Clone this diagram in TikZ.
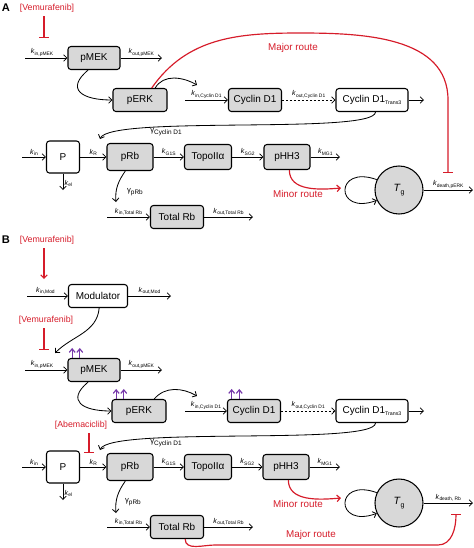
\documentclass[tikz,border=0pt]{standalone}
\usepackage{fontspec}
\setmainfont{Liberation Sans}
\usepackage{xcolor}
\usetikzlibrary{arrows.meta}
\definecolor{boxgray}{RGB}{216,216,216}
\definecolor{routered}{RGB}{214,28,42}
\definecolor{upviolet}{RGB}{118,56,170}
\newcommand{\krate}[1]{\textit{k}\raisebox{-1.2pt}{\fontsize{4.2}{5}\selectfont #1}}
\newcommand{\grate}[1]{γ\raisebox{-1.2pt}{\fontsize{5.5}{6}\selectfont #1}}
\newcommand{\subtx}[1]{\raisebox{-1.5pt}{\fontsize{4.5}{5}\selectfont #1}}

\begin{document}
\begin{tikzpicture}[x=0.03cm,y=0.03cm]
	\tikzstyle{box} = [rectangle,rounded corners=2.5pt,draw=black,line width=0.9pt,fill=boxgray,inner sep=0pt,minimum height=0.69cm,font=\fontsize{8.5}{10}\selectfont]
	\tikzstyle{wbox} = [box,fill=white]
	\tikzstyle{flow} = [line width=0.7pt,-{Straight Barb[length=2.8pt,width=5.5pt]}]
	\tikzstyle{dflow} = [flow,dash pattern=on 2pt off 1.4pt]
	\tikzstyle{redflow} = [flow,color=routered,line width=1pt]
	\tikzstyle{inhib} = [color=routered,line width=1pt,-{Bar[width=8pt,line width=1.1pt]}]
	\tikzstyle{upar} = [color=upviolet,line width=1pt,-{Straight Barb[length=3pt,width=5pt]}]
	\tikzstyle{ratelab} = [font=\fontsize{6}{7}\selectfont,inner sep=1pt,above]
	\tikzstyle{gamlab} = [font=\fontsize{6.5}{7}\selectfont,inner sep=1pt]
	\tikzstyle{route} = [text=routered,font=\fontsize{8.4}{10}\selectfont]
	\tikzstyle{drug} = [text=routered,font=\fontsize{7.5}{9}\selectfont]
	\tikzstyle{panel} = [font=\bfseries\fontsize{9.5}{11}\selectfont]
	\tikzstyle{tgcirc} = [circle,draw=black,line width=0.9pt,fill=boxgray,minimum size=1.44cm,inner sep=0pt,font=\fontsize{9}{10}\selectfont]
	\useasboundingbox (0,0) rectangle (474,-548);

	\node[panel] (la) at (6,-8) {A};
	\node[drug] (vema) at (47,-8) {[Vemurafenib]};
	\coordinate (stopa) at (44,-38);
	\draw[inhib] (vema.south -| stopa) -- (stopa);
	\node[box,minimum width=1.56cm] (pmeka) at (94,-58) {pMEK};
	\coordinate (inmeka) at (25,-58);
	\coordinate (outmeka) at (162,-58);
	\draw[flow] (inmeka) -- node[ratelab,pos=0.4] (kima) {\krate{in,pMEK}} (pmeka);
	\draw[flow] (pmeka) -- node[ratelab] (koma) {\krate{out,pMEK}} (outmeka);
	\node[box,minimum width=1.62cm] (perka) at (140,-100) {pERK};
	\draw[flow] ([xshift=-5pt]pmeka.south) to[out=220,in=180,looseness=2] (perka.west);
	\coordinate (erkouta) at (197,-85);
	\draw[flow] ([xshift=13pt]perka.north) to[out=60,in=150] (erkouta);
	\coordinate (majtopa) at (300,-33);
	\coordinate (majbenda) at (448,-100);
	\coordinate (stoptga) at (448,-173);
	\draw[inhib] ([xshift=10pt]perka.north) to[out=55,in=180] (majtopa) to[out=0,in=90] (majbenda) -- (stoptga);
	\node[route] (majora) at (293,-48) {Major route};
	\node[box,minimum width=1.59cm] (cyca) at (255,-100) {Cyclin D1};
	\coordinate (incyca) at (185,-100);
	\draw[flow] (incyca) -- node[ratelab] (kica) {\krate{in,Cyclin D1}} (cyca);
	\node[wbox,minimum width=2.16cm] (transa) at (372,-100) {Cyclin D1\subtx{Trans3}};
	\draw[dflow] (cyca) -- node[ratelab] (koca) {\krate{out,Cyclin D1}} (transa);
	\coordinate (outtransa) at (424,-100);
	\draw[flow] (transa) -- (outtransa);
	\coordinate (gcyca) at (100,-139);
	\draw[flow] ([xshift=3pt]transa.south) .. controls (375,-135) and (110,-115) .. (gcyca);
	\node[gamlab] (gca) at (166,-132) {\grate{Cyclin D1}};
	\node[wbox,minimum width=0.99cm,minimum height=0.96cm] (pa) at (63,-157) {P};
	\coordinate (inpa) at (22,-157);
	\draw[flow] (inpa) -- node[ratelab] (kipa) {\krate{in}} (pa);
	\coordinate (ela) at (63,-190);
	\draw[flow] (pa) -- node[ratelab,right,pos=0.6] (kela) {\krate{el}} (ela);
	\node[box,minimum width=1.38cm,minimum height=0.81cm] (prba) at (130,-157) {pRb};
	\draw[flow] (pa) -- node[ratelab] (kra) {\krate{R}} (prba);
	\node[box,minimum width=1.41cm,minimum height=0.75cm] (topoa) at (208,-157) {TopoIIα};
	\draw[flow] (prba) -- node[ratelab] (kga) {\krate{G1S}} (topoa);
	\node[box,minimum width=1.38cm,minimum height=0.75cm] (hha) at (287,-157) {pHH3};
	\draw[flow] (topoa) -- node[ratelab] (ksa) {\krate{SG2}} (hha);
	\coordinate (outhha) at (340,-157);
	\draw[flow] (hha) -- node[ratelab] (kmga) {\krate{MG1}} (outhha);
	\coordinate (mina) at (341,-188);
	\draw[redflow] ([xshift=2pt]hha.south) to[out=270,in=185] (mina);
	\node[route] (minora) at (298,-194) {Minor route};
	\node[tgcirc] (tga) at (399,-190) {\textit{T}\raisebox{-2pt}{\fontsize{6}{6}\selectfont g}};
	\draw[flow] (tga.155) .. controls +(160:45) and +(200:45) .. (tga.205);
	\coordinate (deatha) at (473,-190);
	\draw[flow] (tga) -- node[ratelab] (kda) {\krate{death,pERK}} (deatha);
	\coordinate (gprba) at (116,-202);
	\draw[flow] ([xshift=-4pt]prba.south) to[out=235,in=95] (gprba);
	\node[gamlab] (gpa) at (135,-192) {\grate{pRb}};
	\node[box,minimum width=1.59cm] (trba) at (177,-217) {Total Rb};
	\coordinate (intrba) at (107,-217);
	\coordinate (outtrba) at (253,-217);
	\draw[flow] (intrba) -- node[ratelab] (kita) {\krate{in,Total Rb}} (trba);
	\draw[flow] (trba) -- node[ratelab] (kota) {\krate{out,Total Rb}} (outtrba);

	\node[panel] (lb) at (6,-240) {B};
	\node[drug] (vemb) at (47,-240) {[Vemurafenib]};
	\coordinate (modtop) at (44,-279);
	\draw[redflow] (vemb.south -| modtop) -- (modtop);
	\node[wbox,minimum width=1.77cm] (modb) at (98,-296) {Modulator};
	\coordinate (inmodb) at (27,-296);
	\coordinate (outmodb) at (171,-296);
	\draw[flow] (inmodb) -- node[ratelab,pos=0.45] (kimod) {\krate{in,Mod}} (modb);
	\draw[flow] (modb) -- node[ratelab] (komod) {\krate{out,Mod}} (outmodb);
	\node[drug] (vemc) at (46,-320) {[Vemurafenib]};
	\coordinate (stopb) at (44,-350);
	\draw[inhib] (vemc.south -| stopb) -- (stopb);
	\coordinate (modmek) at (55,-353);
	\draw[flow] ([xshift=1pt]modb.south) to[out=265,in=45] (modmek);
	\node[box,minimum width=1.56cm] (pmekb) at (94,-370) {pMEK};
	\coordinate (inmekb) at (25,-370);
	\coordinate (outmekb) at (162,-370);
	\draw[flow] (inmekb) -- node[ratelab,pos=0.4] (kimb) {\krate{in,pMEK}} (pmekb);
	\draw[flow] (pmekb) -- node[ratelab] (komb) {\krate{out,pMEK}} (outmekb);
	\node[box,minimum width=1.62cm] (perkb) at (139,-411) {pERK};
	\draw[flow] ([xshift=-5pt]pmekb.south) to[out=220,in=180,looseness=2] (perkb.west);
	\coordinate (erkoutb) at (197,-396);
	\draw[flow] ([xshift=13pt]perkb.north) to[out=50,in=150] (erkoutb);
	\node[box,minimum width=1.59cm] (cycb) at (254,-411) {Cyclin D1};
	\coordinate (incycb) at (185,-411);
	\draw[flow] (incycb) -- node[ratelab] (kicb) {\krate{in,Cyclin D1}} (cycb);
	\node[wbox,minimum width=2.16cm] (transb) at (372,-411) {Cyclin D1\subtx{Trans3}};
	\draw[dflow] (cycb) -- node[ratelab] (kocb) {\krate{out,Cyclin D1}} (transb);
	\coordinate (outtransb) at (424,-411);
	\draw[flow] (transb) -- (outtransb);
	\foreach \n in {pmekb,perkb,cycb} {
		\draw[upar] ([xshift=4pt]\n.north west) -- ++(0,10);
		\draw[upar] ([xshift=10.5pt]\n.north west) -- ++(0,10);
	}
	\coordinate (gcycb) at (100,-450);
	\draw[flow] ([xshift=3pt]transb.south) .. controls (375,-446) and (110,-426) .. (gcycb);
	\node[gamlab] (gcb) at (166,-443) {\grate{Cyclin D1}};
	\node[drug] (abema) at (81,-425) {[Abemaciclib]};
	\coordinate (stopkr) at (89,-453);
	\draw[inhib] (abema.south -| stopkr) -- (stopkr);
	\node[wbox,minimum width=0.99cm,minimum height=0.96cm] (pb) at (63,-467) {P};
	\coordinate (inpb) at (22,-467);
	\draw[flow] (inpb) -- node[ratelab] (kipb) {\krate{in}} (pb);
	\coordinate (elb) at (63,-500);
	\draw[flow] (pb) -- node[ratelab,right,pos=0.6] (kelb) {\krate{el}} (elb);
	\node[box,minimum width=1.38cm,minimum height=0.81cm] (prbb) at (130,-467) {pRb};
	\draw[flow] (pb) -- node[ratelab] (krb) {\krate{R}} (prbb);
	\node[box,minimum width=1.41cm,minimum height=0.75cm] (topob) at (208,-467) {TopoIIα};
	\draw[flow] (prbb) -- node[ratelab] (kgb) {\krate{G1S}} (topob);
	\node[box,minimum width=1.38cm,minimum height=0.75cm] (hhb) at (286,-467) {pHH3};
	\draw[flow] (topob) -- node[ratelab] (ksb) {\krate{SG2}} (hhb);
	\coordinate (outhhb) at (340,-467);
	\draw[flow] (hhb) -- node[ratelab] (kmgb) {\krate{MG1}} (outhhb);
	\coordinate (minb) at (341,-498);
	\draw[redflow] ([xshift=2pt]hhb.south) to[out=270,in=185] (minb);
	\node[route] (minorb) at (298,-504) {Minor route};
	\node[tgcirc] (tgb) at (399,-503) {\textit{T}\raisebox{-2pt}{\fontsize{6}{6}\selectfont g}};
	\draw[flow] (tgb.155) .. controls +(160:45) and +(200:45) .. (tgb.205);
	\coordinate (deathb) at (473,-503);
	\draw[flow] (tgb) -- node[ratelab] (kdb) {\krate{death, Rb}} (deathb);
	\coordinate (gprbb) at (116,-513);
	\draw[flow] ([xshift=-4pt]prbb.south) to[out=235,in=95] (gprbb);
	\node[gamlab] (gpb) at (133,-502) {\grate{pRb}};
	\node[box,minimum width=1.59cm] (trbb) at (177,-527) {Total Rb};
	\coordinate (intrbb) at (107,-527);
	\coordinate (outtrbb) at (253,-527);
	\draw[flow] (intrbb) -- node[ratelab] (kitb) {\krate{in,Total Rb}} (trbb);
	\draw[flow] (trbb) -- node[ratelab] (kotb) {\krate{out,Total Rb}} (outtrbb);
	\coordinate (majleftb) at (215,-545);
	\coordinate (majrightb) at (438,-545);
	\coordinate (stoptgb) at (456,-514);
	\draw[inhib] ([xshift=7pt]trbb.south) to[out=270,in=180] (majleftb) -- (majrightb) to[out=0,in=270] (stoptgb);
	\node[route] (majorb) at (311,-535) {Major route};
\end{tikzpicture}
\end{document}
